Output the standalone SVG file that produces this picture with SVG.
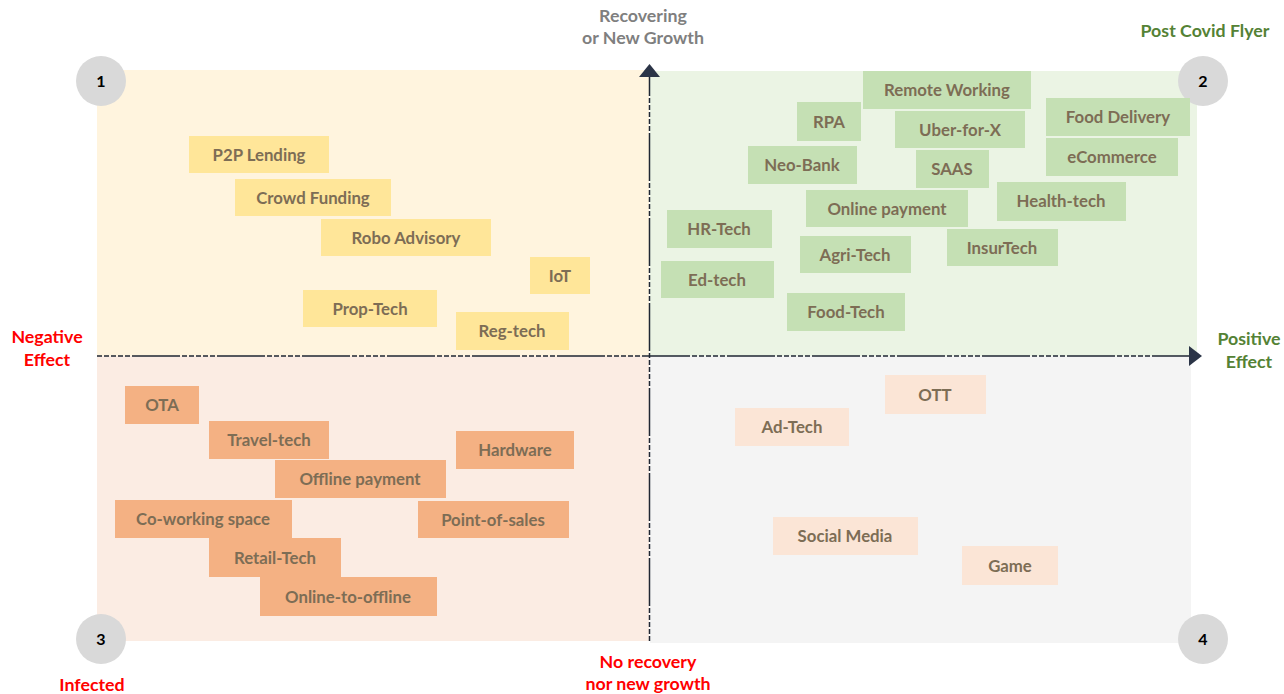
<svg xmlns="http://www.w3.org/2000/svg" width="1284" height="694" viewBox="0 0 1284 694">
<style>
text{font-family:Lato,"Liberation Sans",sans-serif;font-weight:bold}
.lbl{font-size:16.8px;fill:#7d6d55;text-anchor:middle}
.y{fill:#FFE699}.g{fill:#C5E0B4}.o{fill:#F4B183}.p{fill:#FBE5D6}
.num{font-size:16px;fill:#000;text-anchor:middle}
.circ{fill:#D9D9D9}
.ax{font-size:17.8px;text-anchor:middle}
.axis{stroke:#1f2633;stroke-width:1.5;fill:none;stroke-dasharray:5 2 5 2 5 2 5 2 5 2 48 2}
</style>
<g id="quadrants">
<rect x="97" y="70" width="552" height="286" fill="#FFF4DE"/>
<rect x="650" y="71" width="547" height="285" fill="#EBF4E4"/>
<rect x="97" y="356" width="552" height="285" fill="#FBECE3"/>
<rect x="650" y="356" width="541" height="287" fill="#F4F4F4"/>
</g>
<g id="connectors">
<line class="axis" x1="97" y1="356" x2="1190" y2="356"/>
<path d="M1189,346 L1202,356 L1189,366 Z" fill="#2b3447"/>
<line class="axis" x1="649.5" y1="641" x2="649.5" y2="76"/>
<path d="M639,77 L649.5,64 L660,77 Z" fill="#2b3447"/>
</g>
<g id="axis-labels">
<text class="ax" x="643" y="22" fill="#7f7f7f">Recovering</text>
<text class="ax" x="643" y="44" fill="#7f7f7f">or New Growth</text>
<text class="ax" x="648" y="668" fill="#ff0000">No recovery</text>
<text class="ax" x="648" y="690" fill="#ff0000">nor new growth</text>
<text class="ax" x="47" y="343" fill="#ff0000">Negative</text>
<text class="ax" x="47" y="366" fill="#ff0000">Effect</text>
<text class="ax" x="1249" y="345" fill="#548235">Positive</text>
<text class="ax" x="1249" y="368" fill="#548235">Effect</text>
<text class="ax" x="1205" y="37" fill="#548235">Post Covid Flyer</text>
<text class="ax" x="92" y="691" fill="#ff0000">Infected</text>
</g>
<g id="q1"><circle class="circ" cx="101" cy="81" r="25"/><text class="num" x="101" y="87">1</text></g>
<g id="q2"><circle class="circ" cx="1203" cy="81" r="25"/><text class="num" x="1203" y="87">2</text></g>
<g id="q3"><circle class="circ" cx="101" cy="639" r="25"/><text class="num" x="101" y="645">3</text></g>
<g id="q4"><circle class="circ" cx="1203" cy="639" r="25"/><text class="num" x="1203" y="645">4</text></g>

<g id="p2p"><rect class="y" x="189" y="136" width="140" height="37"/><text class="lbl" x="259" y="161">P2P Lending</text></g>
<g id="crowd"><rect class="y" x="235" y="179" width="156" height="37"/><text class="lbl" x="313" y="204">Crowd Funding</text></g>
<g id="robo"><rect class="y" x="321" y="219" width="170" height="37"/><text class="lbl" x="406" y="244">Robo Advisory</text></g>
<g id="iot"><rect class="y" x="530" y="257" width="60" height="37"/><text class="lbl" x="560" y="282">IoT</text></g>
<g id="prop"><rect class="y" x="303" y="290" width="134" height="37"/><text class="lbl" x="370" y="315">Prop-Tech</text></g>
<g id="reg"><rect class="y" x="456" y="312" width="113" height="38"/><text class="lbl" x="512" y="337">Reg-tech</text></g>

<g id="rpa"><rect class="g" x="797" y="102" width="64" height="39"/><text class="lbl" x="829" y="128">RPA</text></g>
<g id="remote"><rect class="g" x="863" y="71" width="168" height="38"/><text class="lbl" x="947" y="96">Remote Working</text></g>
<g id="uber"><rect class="g" x="895" y="111" width="130" height="37"/><text class="lbl" x="960" y="136">Uber-for-X</text></g>
<g id="fooddel"><rect class="g" x="1046" y="98" width="144" height="38"/><text class="lbl" x="1118" y="123">Food Delivery</text></g>
<g id="ecom"><rect class="g" x="1046" y="138" width="132" height="38"/><text class="lbl" x="1112" y="163">eCommerce</text></g>
<g id="neo"><rect class="g" x="748" y="146" width="109" height="38"/><text class="lbl" x="802" y="171">Neo-Bank</text></g>
<g id="saas"><rect class="g" x="916" y="150" width="73" height="38"/><text class="lbl" x="952" y="175">SAAS</text></g>
<g id="onlinepay"><rect class="g" x="806" y="190" width="162" height="37"/><text class="lbl" x="887" y="215">Online payment</text></g>
<g id="health"><rect class="g" x="997" y="182" width="129" height="39"/><text class="lbl" x="1061" y="207">Health-tech</text></g>
<g id="hr"><rect class="g" x="667" y="210" width="105" height="38"/><text class="lbl" x="719" y="235">HR-Tech</text></g>
<g id="agri"><rect class="g" x="800" y="236" width="111" height="37"/><text class="lbl" x="855" y="261">Agri-Tech</text></g>
<g id="insur"><rect class="g" x="947" y="229" width="111" height="37"/><text class="lbl" x="1002" y="254">InsurTech</text></g>
<g id="ed"><rect class="g" x="661" y="261" width="113" height="37"/><text class="lbl" x="717" y="286">Ed-tech</text></g>
<g id="foodtech"><rect class="g" x="787" y="293" width="118" height="38"/><text class="lbl" x="846" y="318">Food-Tech</text></g>

<g id="ota"><rect class="o" x="125" y="386" width="74" height="38"/><text class="lbl" x="162" y="411">OTA</text></g>
<g id="travel"><rect class="o" x="209" y="421" width="120" height="38"/><text class="lbl" x="269" y="446">Travel-tech</text></g>
<g id="offline"><rect class="o" x="275" y="460" width="171" height="38"/><text class="lbl" x="360" y="485">Offline payment</text></g>
<g id="hardware"><rect class="o" x="456" y="431" width="118" height="38"/><text class="lbl" x="515" y="456">Hardware</text></g>
<g id="cowork"><rect class="o" x="115" y="500" width="177" height="38"/><text class="lbl" x="203" y="525">Co-working space</text></g>
<g id="pos"><rect class="o" x="418" y="501" width="151" height="37"/><text class="lbl" x="493" y="526">Point-of-sales</text></g>
<g id="retail"><rect class="o" x="209" y="538" width="132" height="39"/><text class="lbl" x="275" y="564">Retail-Tech</text></g>
<g id="o2o"><rect class="o" x="260" y="577" width="177" height="39"/><text class="lbl" x="348" y="603">Online-to-offline</text></g>

<g id="ott"><rect class="p" x="885" y="375" width="101" height="39"/><text class="lbl" x="935" y="401">OTT</text></g>
<g id="adtech"><rect class="p" x="735" y="408" width="114" height="38"/><text class="lbl" x="792" y="433">Ad-Tech</text></g>
<g id="social"><rect class="p" x="773" y="517" width="145" height="38"/><text class="lbl" x="845" y="542">Social Media</text></g>
<g id="game"><rect class="p" x="962" y="546" width="96" height="39"/><text class="lbl" x="1010" y="572">Game</text></g>
</svg>
